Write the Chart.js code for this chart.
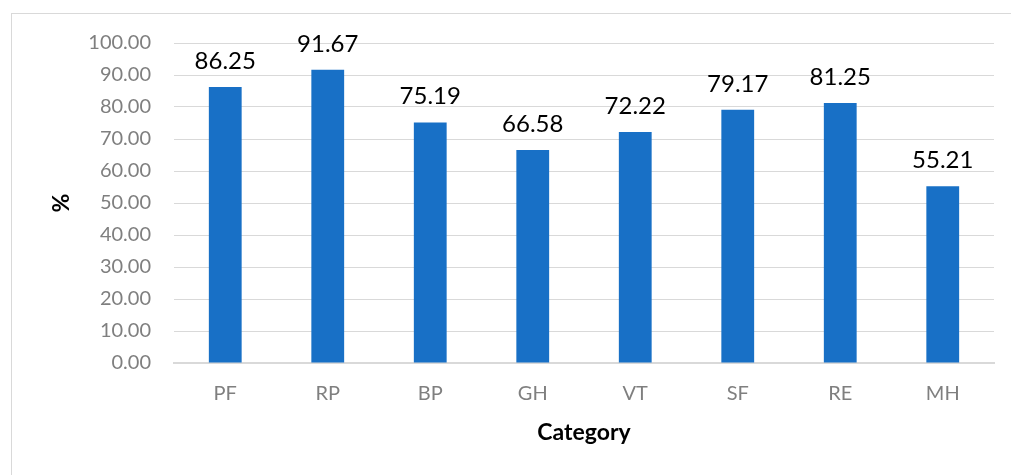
<!DOCTYPE html>
<html>
<head>
<meta charset="utf-8">
<script src="https://cdn.jsdelivr.net/npm/chart.js@4.4.1/dist/chart.umd.min.js"></script>
<style>
  html, body { margin: 0; padding: 0; background: #fff; overflow: hidden; }
  #wrap { position: relative; width: 1011px; height: 475px; }
  #frame {
    position: absolute; left: 11px; top: 13px; width: 1100px; height: 600px;
    border: 1px solid #d9d9d9; box-sizing: border-box;
  }
  #chartBox { position: absolute; left: 0; top: 0; width: 1011px; height: 475px; }
</style>
</head>
<body>
<div id="wrap">
  <div id="frame"></div>
  <div id="chartBox"><canvas id="barChart"></canvas></div>
</div>
<script>
// Datos del gráfico
const categories = ['PF', 'RP', 'BP', 'GH', 'VT', 'SF', 'RE', 'MH'];
const percentValues = [86.25, 91.67, 75.19, 66.58, 72.22, 79.17, 81.25, 55.21];
const yTicks = [0, 10, 20, 30, 40, 50, 60, 70, 80, 90, 100];

const fontFamily = 'Lato, "Open Sans", sans-serif';
const colors = {
  bar: '#1870c6',
  grid: '#d9d9d9',
  tick: '#7f7f7f',
  label: '#000000'
};

// Etiquetas de valor encima de cada barra
const valueLabels = {
  id: 'valueLabels',
  afterDatasetsDraw(chart) {
    const ctx = chart.ctx;
    const meta = chart.getDatasetMeta(0);
    ctx.save();
    ctx.font = '24px ' + fontFamily;
    ctx.fillStyle = colors.label;
    ctx.textAlign = 'center';
    ctx.textBaseline = 'alphabetic';
    meta.data.forEach((bar, i) => {
      ctx.fillText(percentValues[i].toFixed(2), bar.x, bar.y - 18);
    });
    ctx.restore();
  }
};

new Chart(document.getElementById('barChart'), {
  type: 'bar',
  data: {
    labels: categories,
    datasets: [{
      data: percentValues,
      backgroundColor: colors.bar,
      borderWidth: 0,
      categoryPercentage: 1,
      barPercentage: 0.32
    }]
  },
  options: {
    responsive: true,
    maintainAspectRatio: false,
    animation: false,
    layout: { padding: { left: 0, top: 43, right: 17, bottom: 0 } },
    plugins: {
      legend: { display: false },
      tooltip: { enabled: false }
    },
    scales: {
      x: {
        grid: { display: false, drawTicks: false },
        border: { display: true, color: colors.grid, width: 2 },
        ticks: { color: colors.tick, font: { family: fontFamily, size: 20 }, padding: 19 },
        title: {
          display: true, text: 'Category', color: '#000',
          font: { family: fontFamily, size: 23, weight: 'bold' },
          padding: { top: 0, bottom: 29 }
        },
        afterFit(scale) { scale.height = 112; }
      },
      y: {
        min: 0,
        max: 100,
        afterBuildTicks(scale) { scale.ticks = yTicks.map(v => ({ value: v })); },
        grid: { color: colors.grid, lineWidth: 1, drawTicks: false },
        border: { display: false },
        ticks: {
          color: colors.tick, font: { family: fontFamily, size: 20 }, padding: 23,
          callback: v => v.toFixed(2)
        },
        title: {
          display: true, text: '%', color: '#000',
          font: { family: fontFamily, size: 23, weight: 'bold' },
          padding: { top: 48, bottom: 0 }
        },
        afterFit(scale) { scale.width = 174; }
      }
    }
  },
  plugins: [valueLabels]
});
</script>
</body>
</html>
